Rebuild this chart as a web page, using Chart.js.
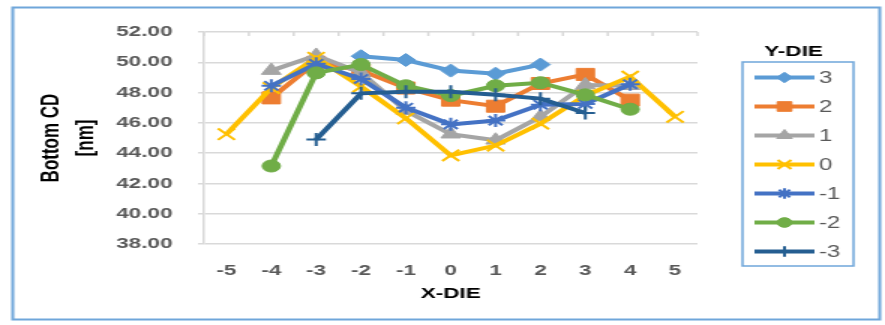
<!DOCTYPE html>
<html>
<head>
<meta charset="utf-8">
<script src="https://cdn.jsdelivr.net/npm/chart.js@4.4.1/dist/chart.umd.min.js"></script>
<style>
  html, body { margin: 0; padding: 0; background: #fff; }
  /* the reference picture is stretched ~1.5x sideways, so draw at 590 wide and stretch */
  #chart { display: block; width: 885px !important; height: 325px !important; }
</style>
</head>
<body>
<canvas id="chart" width="590" height="325" style="width:885px;height:325px"></canvas>
<script>
// ===== Data =====
const xDie = ["-5", "-4", "-3", "-2", "-1", "0", "1", "2", "3", "4", "5"];
const yDie = ["3", "2", "1", "0", "-1", "-2", "-3"];

const cdY3  = [null, null, null, 50.4, 50.15, 49.45, 49.25, 49.85, null, null, null];
const cdY2  = [null, 47.65, 50.0, 49.45, 48.3, 47.5, 47.1, 48.6, 49.2, 47.5, null];
const cdY1  = [null, 49.45, 50.45, 49.3, 46.8, 45.25, 44.85, 46.4, 48.5, 48.45, null];
const cdY0  = [45.25, 48.3, 50.3, 48.4, 46.3, 43.85, 44.5, 45.95, 47.8, 49.05, 46.4];
const cdYm1 = [null, 48.45, 49.9, 48.9, 47.0, 45.9, 46.15, 47.2, 47.25, 48.55, null];
const cdYm2 = [null, 43.15, 49.3, 49.85, 48.45, 47.8, 48.45, 48.65, 47.85, 46.9, null];
const cdYm3 = [null, null, 44.9, 47.95, 48.05, 48.05, 47.85, 47.6, 46.65, null, null];

const yTicks = { min: 38, max: 52, step: 2 };

// ===== Series styles =====
function series(i, data, color, style, radius, markerLine) {
  return {
    label: yDie[i],
    data,
    borderColor: color,
    backgroundColor: color,
    borderWidth: 4,
    pointStyle: style,
    pointRadius: radius,
    pointHoverRadius: radius,
    pointBackgroundColor: color,
    pointBorderColor: color,
    pointBorderWidth: markerLine,
    tension: 0,
    spanGaps: false,
    order: 6 - i
  };
}

const datasets = [
  series(0, cdY3,  "#5B9BD5", "rectRot",  6.5, 1),
  series(1, cdY2,  "#ED7D31", "rect",     8.5, 1),
  series(2, cdY1,  "#A5A5A5", "triangle", 7.5, 1),
  series(3, cdY0,  "#FFC000", "crossRot", 8,   2),
  series(4, cdYm1, "#4472C4", "star",     6.5, 2),
  series(5, cdYm2, "#70AD47", "circle",   6,   1),
  series(6, cdYm3, "#255E91", "cross",    6.5, 2)
];

// ===== Plugins =====
const frame = {
  id: "frame",
  beforeDraw(chart) {
    const ctx = chart.ctx;
    ctx.save();
    ctx.fillStyle = "#fff";
    ctx.fillRect(0, 0, chart.width, chart.height);
    ctx.strokeStyle = "#6FA6DA";
    ctx.lineWidth = 2;
    ctx.strokeRect(8.5, 7.5, 578, 312);
    ctx.restore();
  },
  beforeDatasetsDraw(chart) {
    // little category ticks hanging from the top line
    const x = chart.scales.x;
    const top = chart.chartArea.top;
    const ctx = chart.ctx;
    ctx.save();
    ctx.strokeStyle = "#D9D9D9";
    ctx.lineWidth = 1.5;
    for (let i = 0; i <= xDie.length; i++) {
      const px = x.getPixelForValue(i - 0.5);
      ctx.beginPath();
      ctx.moveTo(px, top);
      ctx.lineTo(px, top + 4);
      ctx.stroke();
    }
    ctx.restore();
  }
};

const legendBox = {
  id: "legendBox",
  afterDraw(chart) {
    const ctx = chart.ctx;
    ctx.save();
    ctx.strokeStyle = "#6FA6DA";
    ctx.lineWidth = 1.5;
    ctx.strokeRect(495, 62, 74, 204);

    ctx.fillStyle = "#000";
    ctx.font = "bold 15px 'Liberation Sans', Arial, sans-serif";
    ctx.textAlign = "center";
    ctx.textBaseline = "middle";
    ctx.fillText("Y-DIE", 529, 52);

    chart.data.datasets.forEach((ds, i) => {
      const y = 77.5 + i * 29;
      ctx.strokeStyle = ds.borderColor;
      ctx.fillStyle = ds.borderColor;
      ctx.lineWidth = 4;
      ctx.beginPath();
      ctx.moveTo(503, y);
      ctx.lineTo(543, y);
      ctx.stroke();
      ctx.lineWidth = ds.pointBorderWidth;
      Chart.helpers.drawPoint(ctx, {
        pointStyle: ds.pointStyle,
        radius: ds.pointRadius * 0.8,
        borderWidth: ds.pointBorderWidth,
        rotation: 0
      }, 523, y);
      ctx.fillStyle = "#595959";
      ctx.font = "16px 'Liberation Sans', Arial, sans-serif";
      ctx.textAlign = "left";
      ctx.fillText(ds.label, 546, y + 1);
    });
    ctx.restore();
  }
};

// ===== Chart =====
new Chart(document.getElementById("chart"), {
  type: "line",
  data: { labels: xDie, datasets },
  options: {
    responsive: false,
    animation: false,
    layout: { padding: { left: 0, top: 32, right: 125, bottom: 15 } },
    plugins: {
      legend: { display: false },
      tooltip: { enabled: false }
    },
    scales: {
      x: {
        type: "category",
        offset: true,
        grid: { display: false },
        border: { display: false },
        ticks: {
          color: "#595959",
          font: { family: "'Liberation Sans', Arial, sans-serif", size: 15, weight: "bold" },
          padding: 10,
          maxRotation: 0,
          autoSkip: false
        },
        title: {
          display: true,
          text: "X-DIE",
          color: "#000",
          font: { family: "'Liberation Sans', Arial, sans-serif", size: 15, weight: "bold" },
          padding: { top: 0, bottom: 7 }
        },
        afterFit(scale) { scale.height = 66; }
      },
      y: {
        min: yTicks.min,
        max: yTicks.max,
        grid: { color: "#D9D9D9", lineWidth: 1.5, tickLength: 4, tickColor: "#D9D9D9" },
        border: { display: true, color: "#D9D9D9", width: 1.5 },
        ticks: {
          stepSize: yTicks.step,
          color: "#595959",
          font: { family: "'Liberation Sans', Arial, sans-serif", size: 15, weight: "bold" },
          padding: 17,
          callback: v => v.toFixed(2)
        },
        title: {
          display: true,
          text: ["Bottom CD", "[nm]"],
          color: "#000",
          font: { family: "'Liberation Sans', Arial, sans-serif", size: 17, weight: "bold", lineHeight: 1.36 },
          padding: { top: 23, bottom: 0 }
        },
        afterFit(scale) { scale.width = 136; }
      }
    }
  },
  plugins: [frame, legendBox]
});
</script>
</body>
</html>
